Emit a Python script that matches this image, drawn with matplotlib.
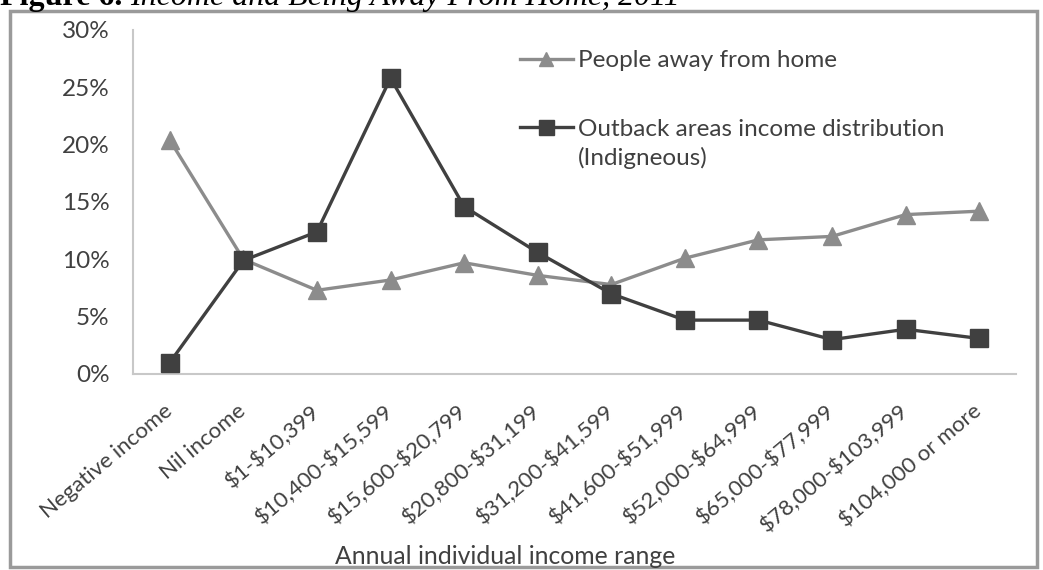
import matplotlib
matplotlib.use('Agg')
import matplotlib.pyplot as plt
from matplotlib.patches import Rectangle
from matplotlib.ticker import FuncFormatter

categories = ['Negative income', 'Nil income', '$1-$10,399', '$10,400-$15,599',
              '$15,600-$20,799', '$20,800-$31,199', '$31,200-$41,599',
              '$41,600-$51,999', '$52,000-$64,999', '$65,000-$77,999',
              '$78,000-$103,999', '$104,000 or more']
away_from_home = [20.4, 10.0, 7.3, 8.2, 9.7, 8.6, 7.8, 10.1, 11.7, 12.0, 13.9, 14.2]
outback_income = [1.0, 9.9, 12.4, 25.8, 14.6, 10.6, 7.0, 4.7, 4.7, 3.0, 3.9, 3.1]
y_ticks = [0, 5, 10, 15, 20, 25, 30]

W, H = 1043, 570
plt.rcParams['font.family'] = ['Lato', 'DejaVu Sans']
fig = plt.figure(figsize=(W / 100, H / 100), dpi=100)
fig.patch.set_facecolor('white')

ax = fig.add_axes([133 / W, 1 - 374 / H, (1016 - 133) / W, (374 - 30) / H])
x = list(range(len(categories)))

gray = '#8c8c8c'
dark = '#404040'
txt = '#404040'
ax.plot(x, away_from_home, color=gray, lw=2.4, marker='^', markersize=12.5,
        markeredgecolor=gray, markerfacecolor=gray, label='People away from home', zorder=3)
ax.plot(x, outback_income, color=dark, lw=2.4, marker='s', markersize=13.5,
        markeredgecolor=dark, markerfacecolor=dark,
        label='Outback areas income distribution', zorder=4)

ax.set_xlim(-0.5, len(categories) - 0.5)
ax.set_ylim(0, 30)
ax.set_yticks(y_ticks)
ax.yaxis.set_major_formatter(FuncFormatter(lambda v, p: f'{int(v)}%'))
ax.set_xticks(x)
ax.set_xticklabels([c.replace('$', r'\$') for c in categories], rotation=40,
                   ha='right', va='center', rotation_mode='anchor')

for s in ['top', 'right']:
    ax.spines[s].set_visible(False)
for s in ['left', 'bottom']:
    ax.spines[s].set_color('#c8c8c8')
    ax.spines[s].set_linewidth(1.5)
ax.tick_params(axis='both', length=0, labelcolor=txt)
ax.tick_params(axis='y', pad=17, labelsize=17.5)
ax.tick_params(axis='x', pad=25, labelsize=16)

leg = ax.legend(loc='upper left', bbox_to_anchor=(520 / W, 1 - 50 / H),
                bbox_transform=fig.transFigure, frameon=False, fontsize=17.5,
                handlelength=2.18, handletextpad=0.2, labelspacing=1.97,
                borderpad=0, borderaxespad=0, numpoints=1, markerscale=0.8)
for t in leg.get_texts():
    t.set_color(txt)
fig.text(578 / W, 1 - 158 / H, '(Indigneous)', fontsize=17.5, color=txt,
         ha='left', va='center')

fig.text(505 / W, 1 - 557 / H, 'Annual individual income range', fontsize=17.8,
         color=txt, ha='center', va='center')

# outer frame
fig.add_artist(Rectangle((10 / W, 1 - 567 / H), 1027 / W, 556 / H,
                         transform=fig.transFigure, fill=False,
                         edgecolor='#9a9a9a', lw=2.5))

# title (partly cut off at top, as in the source)
t1 = fig.text(0 / W, 1 - 5 / H, 'Figure 6. ', family='Liberation Serif',
              fontweight='bold', fontsize=23, ha='left', va='baseline', color='black')
fig.canvas.draw()
bb = t1.get_window_extent(renderer=fig.canvas.get_renderer())
fig.text(bb.x1 / W, 1 - 5 / H, 'Income and Being Away From Home, 2011',
         family='Liberation Serif', fontstyle='italic', fontsize=23,
         ha='left', va='baseline', color='black')

fig.savefig('out.png', dpi=100, facecolor='white')
